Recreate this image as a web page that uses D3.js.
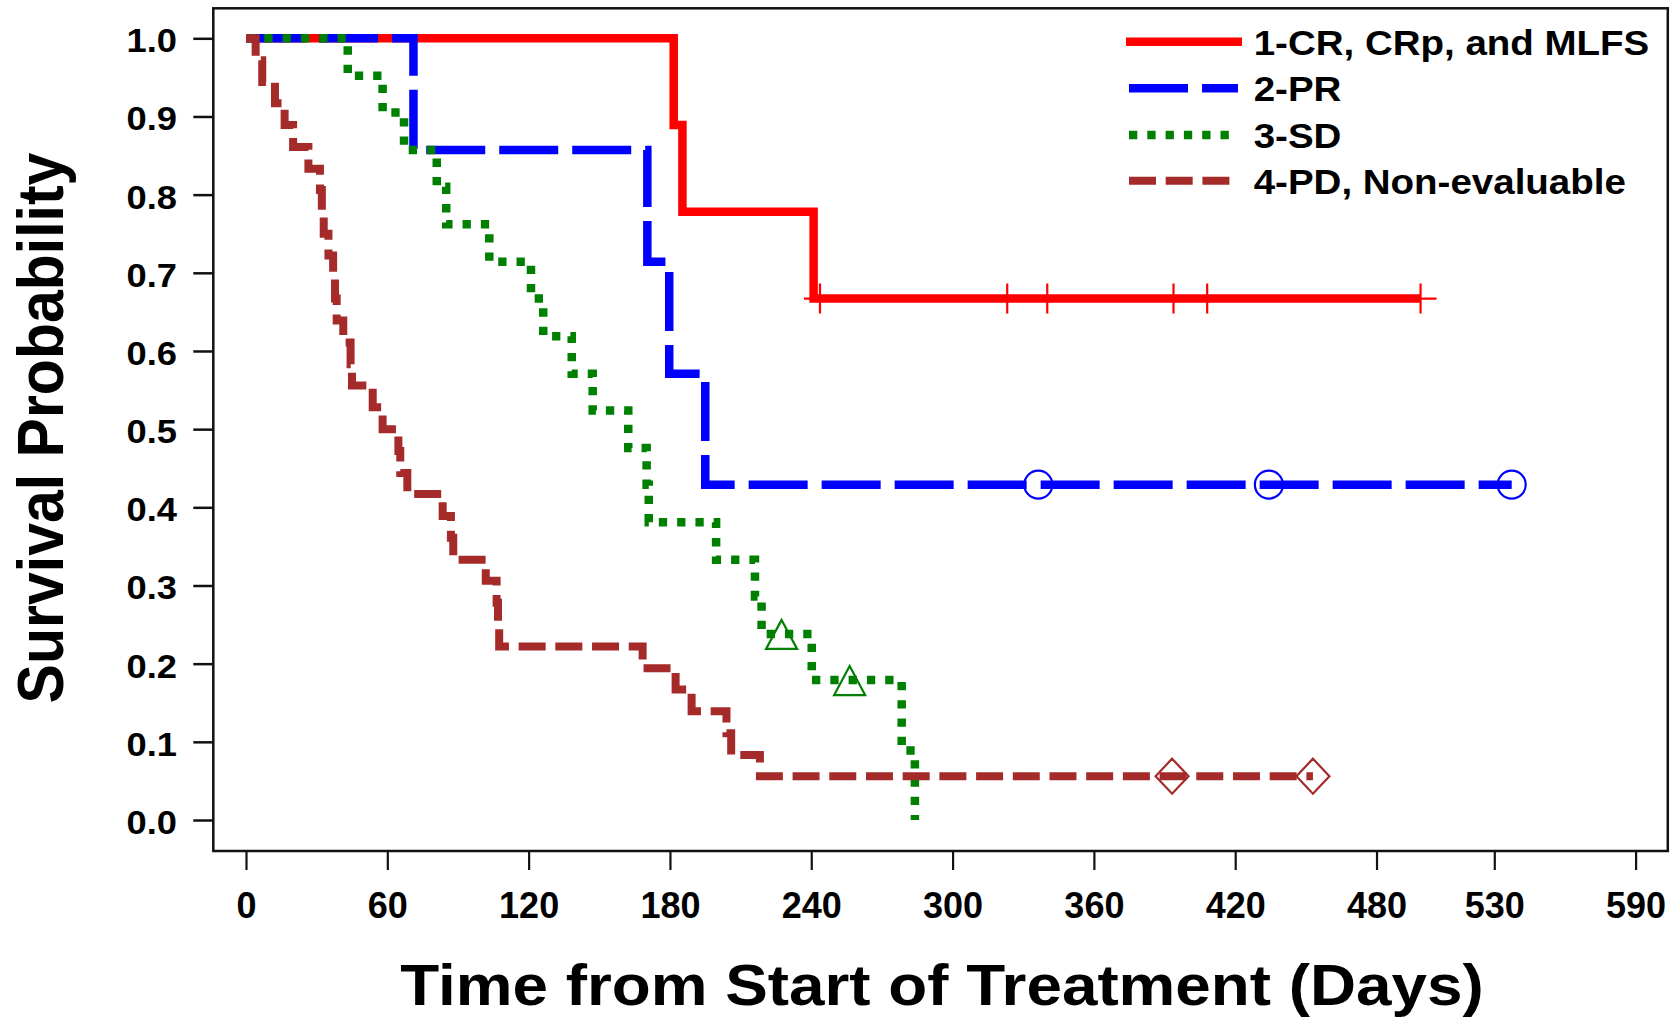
<!DOCTYPE html>
<html>
<head>
<meta charset="utf-8">
<script src="https://cdn.jsdelivr.net/npm/d3@7"></script>
<style>
  body { margin: 0; background: #fff; }
  text { font-family: "Liberation Sans", Arial, sans-serif; font-weight: bold; fill: #000; }
</style>
</head>
<body>
<div id="chart"></div>
<script>
// 1-CR, CRp, and MLFS
var crTimes = [0, 181.6, 185.3, 241, 498.7]
var crSurv = [1, 0.889, 0.778, 0.667, 0.667]
var crCensor = [243.7, 323.2, 340.2, 393.8, 408.1, 498.7]

// 2-PR
var prTimes = [0, 71.1, 170.4, 179.7, 195, 537.4]
var prSurv = [1, 0.857, 0.714, 0.571, 0.429, 0.429]
var prCensor = [336.4, 434.3, 537.4]

// 3-SD
var sdTimes = [0, 43.2, 58, 67.1, 81, 85, 103.3, 121, 126.2, 138.3, 147.2, 162.3, 170.1, 171, 199.6, 216.1, 218.9, 240.2, 278.4, 284]
var sdSurv = [1, 0.952, 0.905, 0.857, 0.810, 0.762, 0.714, 0.667, 0.619, 0.571, 0.524, 0.476, 0.429, 0.381, 0.333, 0.286, 0.238, 0.179, 0.089, 0]
var sdCensor = [227.4, 256.3]

// 4-PD, Non-evaluable
var pdTimes = [0, 4.1, 6.9, 12.3, 16.4, 20, 26.5, 31.4, 32.2, 33, 35, 37, 37.8, 38.5, 41.3, 44.4, 45,
  53.8, 58, 64.7, 65.5, 68.5, 83.5, 87, 88, 101.8, 106.4, 107, 107.5, 168.4, 182.4, 189.2, 204, 206, 218.2, 453]
var pdSurv = [1, 0.972, 0.944, 0.917, 0.889, 0.861, 0.833, 0.806, 0.778, 0.75, 0.722, 0.694, 0.667, 0.639, 0.611, 0.583, 0.556,
  0.528, 0.5, 0.472, 0.444, 0.417, 0.389, 0.361, 0.333, 0.306, 0.278, 0.25, 0.222, 0.194, 0.167, 0.139, 0.111, 0.083, 0.056, 0.056]
var pdCensor = [393.2, 453]

var groupNames = ["1-CR, CRp, and MLFS", "2-PR", "3-SD", "4-PD, Non-evaluable"]
var xTicks = [0, 60, 120, 180, 240, 300, 360, 420, 480, 530, 590]
var yTicks = [0, 0.1, 0.2, 0.3, 0.4, 0.5, 0.6, 0.7, 0.8, 0.9, 1.0]

function drawChart() {
  var width = 1680
  var height = 1018

  var svg = d3.select("#chart")
    .append("svg")
    .attr("width", width)
    .attr("height", height)

  var x = d3.scaleLinear().domain([0, 590]).range([246, 1635.6])
  var y = d3.scaleLinear().domain([0, 1]).range([820, 38.3])

  var groups = [
    { name: groupNames[0], times: crTimes, surv: crSurv, censor: crCensor, color: "#ff0000", width: 8.5, dash: null, mark: "plus" },
    { name: groupNames[1], times: prTimes, surv: prSurv, censor: prCensor, color: "#0000ff", width: 8.5, dash: "59,14", mark: "circle" },
    { name: groupNames[2], times: sdTimes, surv: sdSurv, censor: sdCensor, color: "#008000", width: 8.5, dash: "8.3,10", mark: "triangle" },
    { name: groupNames[3], times: pdTimes, surv: pdSurv, censor: pdCensor, color: "#a52a2a", width: 8, dash: "27,9.7", mark: "diamond" }
  ]

  // frame
  svg.append("rect")
    .attr("x", 213.3).attr("y", 8.3)
    .attr("width", 1667.8 - 213.3).attr("height", 851 - 8.3)
    .attr("fill", "none").attr("stroke", "#111").attr("stroke-width", 2.5)

  // axes
  var xAxis = svg.append("g")
    .attr("transform", "translate(0,851)")
    .call(d3.axisBottom(x).tickValues(xTicks).tickSize(19).tickSizeOuter(0))
  xAxis.select(".domain").remove()
  xAxis.selectAll(".tick line").attr("stroke", "#111").attr("stroke-width", 2.2)
  xAxis.selectAll(".tick text")
    .attr("y", 67).attr("dy", null)
    .attr("font-size", 36)
    .style("font-family", "'Liberation Sans', Arial, sans-serif")
    .style("font-weight", "bold")
    .attr("fill", "#000")

  var yAxis = svg.append("g")
    .attr("transform", "translate(213.3,0)")
    .call(d3.axisLeft(y).tickValues(yTicks).tickSize(20).tickSizeOuter(0).tickFormat(d3.format(".1f")))
  yAxis.select(".domain").remove()
  yAxis.selectAll(".tick line").attr("stroke", "#111").attr("stroke-width", 2.5)
  yAxis.selectAll(".tick text")
    .attr("x", -36.3 / 1.1).attr("y", 13.4).attr("dy", null)
    .attr("transform", "scale(1.1,1)")
    .attr("font-size", 33)
    .style("font-family", "'Liberation Sans', Arial, sans-serif")
    .style("font-weight", "bold")
    .attr("fill", "#000")

  // axis titles
  svg.append("text")
    .attr("transform", "translate(942,1005) scale(1.1,1)")
    .attr("text-anchor", "middle")
    .attr("font-size", 58)
    .text("Time from Start of Treatment (Days)")

  svg.append("text")
    .attr("transform", "translate(63.3,428) scale(1.1,1) rotate(-90)")
    .attr("text-anchor", "middle")
    .attr("font-size", 59)
    .text("Survival Probability")

  // curves
  var line = d3.line()
    .x(d => x(d[0]))
    .y(d => y(d[1]))
    .curve(d3.curveStepAfter)

  function survAt(g, t) {
    var i = d3.bisectRight(g.times, t) - 1
    return g.surv[Math.max(0, i)]
  }

  var curves = svg.append("g")
  groups.forEach(function (g) {
    curves.append("path")
      .datum(d3.zip(g.times, g.surv))
      .attr("d", line)
      .attr("fill", "none")
      .attr("stroke", g.color)
      .attr("stroke-width", g.width)
      .attr("stroke-dasharray", g.dash)
      .attr("stroke-linejoin", "miter")
      .attr("stroke-linecap", "butt")
  })

  // censor marks
  groups.forEach(function (g) {
    var marks = curves.append("g")
      .selectAll("path")
      .data(g.censor)
      .join("path")
      .attr("transform", d => "translate(" + x(d) + "," + y(survAt(g, d)) + ")")
      .attr("fill", "none")
      .attr("stroke", g.color)
      .attr("stroke-width", 2.2)
    if (g.mark == "plus") marks.attr("d", "M-16,0H16M0,-15V15")
    if (g.mark == "circle") marks.attr("d", d3.arc()({ innerRadius: 0, outerRadius: 14, startAngle: 0, endAngle: 2 * Math.PI }))
      .attr("d", "M14,0A14,14 0 1,1 -14,0A14,14 0 1,1 14,0Z")
    if (g.mark == "triangle") marks.attr("d", "M0,-14L15.5,15H-15.5Z")
    if (g.mark == "diamond") marks.attr("d", "M0,-17.5L16.5,0L0,17.5L-16.5,0Z")
  })

  // legend
  var legend = svg.append("g")
  var legendY = [41.7, 88.3, 135, 180.7]
  var legendX0 = [1126, 1129, 1129, 1129]
  var legendX1 = [1242, 1238, 1231, 1231]
  groups.forEach(function (g, i) {
    legend.append("line")
      .attr("x1", legendX0[i]).attr("x2", legendX1[i])
      .attr("y1", legendY[i]).attr("y2", legendY[i])
      .attr("stroke", g.color)
      .attr("stroke-width", g.width)
      .attr("stroke-dasharray", g.dash)
    legend.append("text")
      .attr("transform", "translate(1253.7," + (legendY[i] + 13) + ") scale(1.1,1)")
      .attr("font-size", 35)
      .text(g.name)
  })
}
drawChart()
</script>
</body>
</html>
